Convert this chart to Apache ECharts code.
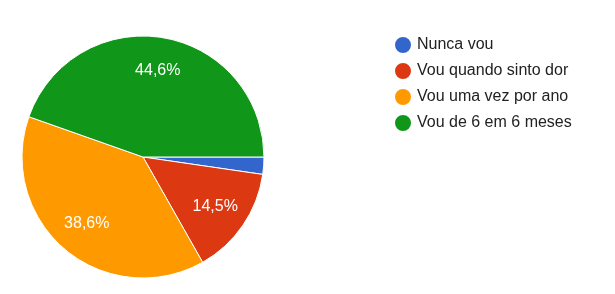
<!DOCTYPE html>
<html>
<head>
<meta charset="utf-8">
<script src="https://cdn.jsdelivr.net/npm/echarts@6/dist/echarts.min.js"></script>
<style>
html,body{margin:0;padding:0;background:#fff;}
#c{width:615px;height:294px;}
</style>
</head>
<body>
<div id="c"></div>
<script>
var categories = ['Nunca vou', 'Vou quando sinto dor', 'Vou uma vez por ano', 'Vou de 6 em 6 meses'];
var values = [2.3, 14.5, 38.6, 44.6];
var colors = ['#3366cc', '#dc3912', '#ff9900', '#109618'];

var data = categories.map(function (n, i) {
  return { name: n, value: values[i], itemStyle: { color: colors[i] } };
});
var overlay = categories.map(function (n, i) {
  return { name: n, value: values[i], itemStyle: { color: 'rgba(0,0,0,0)' } };
});

var chart = echarts.init(document.getElementById('c'), null, { renderer: 'canvas' });
chart.setOption({
  animation: false,
  backgroundColor: '#fff',
  legend: {
    orient: 'vertical',
    left: 388,
    top: 30,
    icon: 'circle',
    itemWidth: 18,
    itemHeight: 18,
    itemGap: 6,
    data: categories,
    textStyle: { fontFamily: 'Liberation Sans, Arial, sans-serif', fontSize: 16, color: '#222' }
  },
  series: [
    {
      type: 'pie',
      center: [143, 157],
      radius: [0, 121],
      startAngle: 0,
      clockwise: true,
      silent: true,
      label: { show: false },
      labelLine: { show: false },
      itemStyle: { borderColor: '#fff', borderWidth: 1 },
      data: data
    },
    {
      type: 'pie',
      center: [143, 157],
      radius: [48, 121],
      startAngle: 0,
      clockwise: true,
      silent: true,
      legendHoverLink: false,
      itemStyle: { borderWidth: 0 },
      label: {
        show: true,
        position: 'inside',
        color: '#fff',
        fontSize: 16,
        fontFamily: 'Liberation Sans, Arial, sans-serif',
        formatter: function (p) {
          if (p.value < 5) return '';
          return p.value.toFixed(1).replace('.', ',') + '%';
        }
      },
      labelLine: { show: false },
      data: overlay
    }
  ]
});
</script>
</body>
</html>
